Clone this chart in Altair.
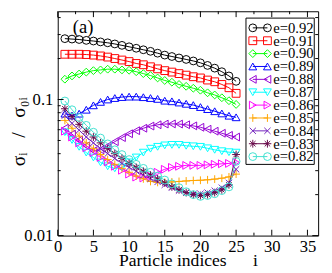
import altair as alt
import pandas as pd

# ---------------- data ----------------
indices = list(range(1, 26))
labels = ["e=0.92", "e=0.91", "e=0.90", "e=0.89", "e=0.88", "e=0.87",
          "e=0.86", "e=0.85", "e=0.84", "e=0.83", "e=0.82"]

e092 = [0.280, 0.278, 0.276, 0.272, 0.269, 0.265, 0.261, 0.256, 0.250, 0.244,
        0.238, 0.232, 0.226, 0.219, 0.212, 0.207, 0.202, 0.197, 0.192, 0.186,
        0.178, 0.170, 0.160, 0.149, 0.136]
e091 = [0.215, 0.215, 0.215, 0.214, 0.212, 0.209, 0.205, 0.200, 0.195, 0.190,
        0.184, 0.180, 0.174, 0.168, 0.163, 0.159, 0.155, 0.151, 0.147, 0.144,
        0.139, 0.135, 0.129, 0.122, 0.111]
e090 = [0.141, 0.149, 0.154, 0.159, 0.163, 0.165, 0.167, 0.167, 0.165, 0.164,
        0.160, 0.155, 0.150, 0.144, 0.138, 0.134, 0.129, 0.125, 0.121, 0.117,
        0.112, 0.108, 0.103, 0.098, 0.092]
e089 = [0.0787, 0.0762, 0.0787, 0.0841, 0.0906, 0.0960, 0.1000, 0.1025, 0.1042, 0.1050,
        0.1050, 0.1040, 0.1025, 0.1010, 0.0980, 0.0970, 0.0950, 0.0930, 0.0910, 0.0880,
        0.0850, 0.0820, 0.0790, 0.0760, 0.0740]
e088 = [0.0615, 0.0557, 0.0504, 0.0457, 0.0420, 0.0427, 0.0455, 0.0490, 0.0525, 0.0560,
        0.0590, 0.0615, 0.0638, 0.0652, 0.0660, 0.0662, 0.0660, 0.0652, 0.0640, 0.0625,
        0.0605, 0.0585, 0.0565, 0.0545, 0.0530]
e087 = [0.0575, 0.0504, 0.0449, 0.0407, 0.0375, 0.0345, 0.0323, 0.0312, 0.0317, 0.0345,
        0.0375, 0.0407, 0.0435, 0.0449, 0.0460, 0.0464, 0.0464, 0.0457, 0.0453, 0.0449,
        0.0438, 0.0427, 0.0417, 0.0410, 0.0407]
e086 = [0.0585, 0.0530, 0.0480, 0.0442, 0.0407, 0.0375, 0.0348, 0.0323, 0.0302, 0.0283,
        0.0269, 0.0265, 0.0274, 0.0292, 0.0307, 0.0317, 0.0323, 0.0328, 0.0328, 0.0328,
        0.0331, 0.0334, 0.0337, 0.0339, 0.0345]
e085 = [0.0702, 0.0615, 0.0538, 0.0480, 0.0435, 0.0394, 0.0362, 0.0334, 0.0312, 0.0292,
        0.0274, 0.0261, 0.0250, 0.0246, 0.0246, 0.0248, 0.0250, 0.0252, 0.0254, 0.0255,
        0.0257, 0.0260, 0.0264, 0.0270, 0.0283]
e084 = [0.0762, 0.0668, 0.0595, 0.0530, 0.0480, 0.0435, 0.0400, 0.0369, 0.0339, 0.0317,
        0.0297, 0.0278, 0.0261, 0.0248, 0.0236, 0.0225, 0.0214, 0.0207, 0.0203, 0.0203,
        0.0207, 0.0214, 0.0225, 0.0244, 0.0307]
e083 = [0.0855, 0.0749, 0.0657, 0.0585, 0.0530, 0.0480, 0.0435, 0.0400, 0.0369, 0.0339,
        0.0317, 0.0297, 0.0278, 0.0261, 0.0244, 0.0228, 0.0217, 0.0207, 0.0200, 0.0197,
        0.0200, 0.0207, 0.0217, 0.0236, 0.0394]
e082 = [0.0975, 0.0841, 0.0737, 0.0646, 0.0575, 0.0521, 0.0472, 0.0427, 0.0394, 0.0362,
        0.0334, 0.0312, 0.0292, 0.0274, 0.0256, 0.0240, 0.0225, 0.0210, 0.0200, 0.0194,
        0.0197, 0.0203, 0.0214, 0.0228, 0.0351]

series_values = [e092, e091, e090, e089, e088, e087, e086, e085, e084, e083, e082]

x_major = [0, 5, 10, 15, 20, 25, 30, 35]
x_minor = [2.5, 7.5, 12.5, 17.5, 22.5, 27.5, 32.5]
y_major = [0.01, 0.1]
y_minor = [0.02, 0.03, 0.04, 0.05, 0.06, 0.07, 0.08, 0.09, 0.2, 0.3, 0.4]

# ---------------- styles ----------------
colors = ["#000000", "#ff0000", "#00ff00", "#0000ff", "#9400d3", "#00ffff",
          "#ff00ff", "#ffa500", "#7221bc", "#670748", "#40e0d0"]
PLUS = "M-1,0L1,0M0,-1L0,1"
XSYM = "M-0.8,-0.8L0.8,0.8M-0.8,0.8L0.8,-0.8"
STAR = "M-1,0L1,0M0,-1L0,1M-0.7,-0.7L0.7,0.7M-0.7,0.7L0.7,-0.7"
shapes = ["circle", "square", "diamond", "triangle-up", "triangle-left",
          "triangle-down", "triangle-right", PLUS, XSYM, STAR, "circle"]

FONT = "Liberation Serif"
W, H = 267, 230
XDOM = [0, 36.5]
YDOM = [0.01, 0.445]

rows = []
for lab, vals in zip(labels, series_values):
    for i, v in zip(indices, vals):
        rows.append({"i": i, "ratio": v, "e": lab})
df = pd.DataFrame(rows)

xs = alt.Scale(domain=XDOM, nice=False, zero=False)
ys = alt.Scale(type="log", domain=YDOM, nice=False)
cscale = alt.Scale(domain=labels, range=colors)
sscale = alt.Scale(domain=labels, range=shapes)

NB = "\u00a0"
XTITLE = "Particle indices" + NB * 6 + "i"
YTITLE = "σᵢ" + NB * 3 + "/" + NB * 3 + "σ₀ᵢ"

xaxis = alt.Axis(values=x_major, ticks=False, domain=False, grid=False,
                 labelFont=FONT, labelFontSize=17, labelColor="black",
                 labelPadding=3, labelFlush=False, labelOverlap=False,
                 title=XTITLE,
                 titleFont=FONT, titleFontSize=18, titleFontWeight="normal",
                 titleColor="black", titleBaseline="alphabetic", titleY=31)
yaxis = alt.Axis(values=y_major, format="~g", ticks=False, domain=False, grid=False,
                 labelFont=FONT, labelFontSize=17, labelColor="black",
                 labelPadding=5, labelFlush=False, labelOverlap=False,
                 title=YTITLE, titleFont=FONT, titleFontSize=20,
                 titleFontWeight="normal", titleColor="black",
                 titleX=-40, titleY=123, titleAlign="center",
                 titleBaseline="middle", titleAngle=-90)

def X(field):
    return alt.X(field, scale=xs, axis=xaxis, title=XTITLE)

def Y(field):
    return alt.Y(field, scale=ys, axis=yaxis, title=YTITLE)

lines = alt.Chart(df).mark_line(strokeWidth=1).encode(
    x=X("i:Q"), y=Y("ratio:Q"),
    color=alt.Color("e:N", scale=cscale, legend=None),
)
points = alt.Chart(df).mark_point(filled=False, size=64, strokeWidth=1, opacity=1).encode(
    x=X("i:Q"), y=Y("ratio:Q"),
    color=alt.Color("e:N", scale=cscale, legend=None),
    shape=alt.Shape("e:N", scale=sscale, legend=None),
)

# inward ticks on all four sides
def xticks(vals, length):
    d = pd.DataFrame({"t": vals})
    bot = alt.Chart(d).mark_rule(color="black", strokeWidth=1).encode(
        x=X("t:Q"), y=alt.value(H), y2=alt.value(H - length))
    top = alt.Chart(d).mark_rule(color="black", strokeWidth=1).encode(
        x=X("t:Q"), y=alt.value(0), y2=alt.value(length))
    return [bot, top]

def yticks(vals, length):
    d = pd.DataFrame({"t": vals})
    left = alt.Chart(d).mark_rule(color="black", strokeWidth=1).encode(
        y=Y("t:Q"), x=alt.value(0), x2=alt.value(length))
    right = alt.Chart(d).mark_rule(color="black", strokeWidth=1).encode(
        y=Y("t:Q"), x=alt.value(W), x2=alt.value(W - length))
    return [left, right]

tick_layers = (xticks(x_major, 6) + xticks(x_minor, 3) +
               yticks(y_major, 6) + yticks(y_minor, 3))

# panel label (positions relative to the plot area)
panel = alt.Chart(pd.DataFrame({"a": [0]})).mark_text(
    font=FONT, fontSize=19, color="black", align="center", baseline="middle"
).encode(x=alt.value(26), y=alt.value(16), text=alt.value("(a)"))

# legend (xmgrace style), positions relative to the plot area
LX0, LX1, LY0, LY1 = 193, 263, 7, 157
leg_box = alt.Chart(pd.DataFrame({"a": [0]})).mark_rect(
    fill="white", stroke="black", strokeWidth=1
).encode(x=alt.value(LX0), x2=alt.value(LX1), y=alt.value(LY0), y2=alt.value(LY1))

leg = pd.DataFrame({"e": labels})
leg["ly"] = [17 + 13.2 * k for k in range(len(labels))]
leg["xa"] = 200
leg["xb"] = 215
leg["xt"] = 221
leg_pts = pd.concat([leg.assign(px=leg["xa"]), leg.assign(px=leg["xb"])])

leg_lines = alt.Chart(leg).mark_rule(strokeWidth=1).encode(
    x=alt.X("xa:Q", scale=None, axis=None), x2="xb:Q",
    y=alt.Y("ly:Q", scale=None, axis=None),
    color=alt.Color("e:N", scale=cscale, legend=None))
leg_marks = alt.Chart(leg_pts).mark_point(filled=False, size=64, strokeWidth=1, opacity=1).encode(
    x=alt.X("px:Q", scale=None, axis=None),
    y=alt.Y("ly:Q", scale=None, axis=None),
    color=alt.Color("e:N", scale=cscale, legend=None),
    shape=alt.Shape("e:N", scale=sscale, legend=None))
leg_text = alt.Chart(leg).mark_text(
    font=FONT, fontSize=15, color="black", align="left", baseline="middle"
).encode(x=alt.X("xt:Q", scale=None, axis=None),
         y=alt.Y("ly:Q", scale=None, axis=None), text="e:N")

chart = alt.layer(
    lines, points, *tick_layers, panel, leg_box, leg_lines, leg_marks, leg_text
).properties(
    width=W, height=H,
    autosize=alt.AutoSizeParams(type="none"),
    padding={"left": 51, "top": 0, "right": 6, "bottom": 35},
    background="white",
).configure_view(stroke="black", strokeWidth=1)

chart.save("out.html", embed_options={"renderer": "svg", "actions": False})
